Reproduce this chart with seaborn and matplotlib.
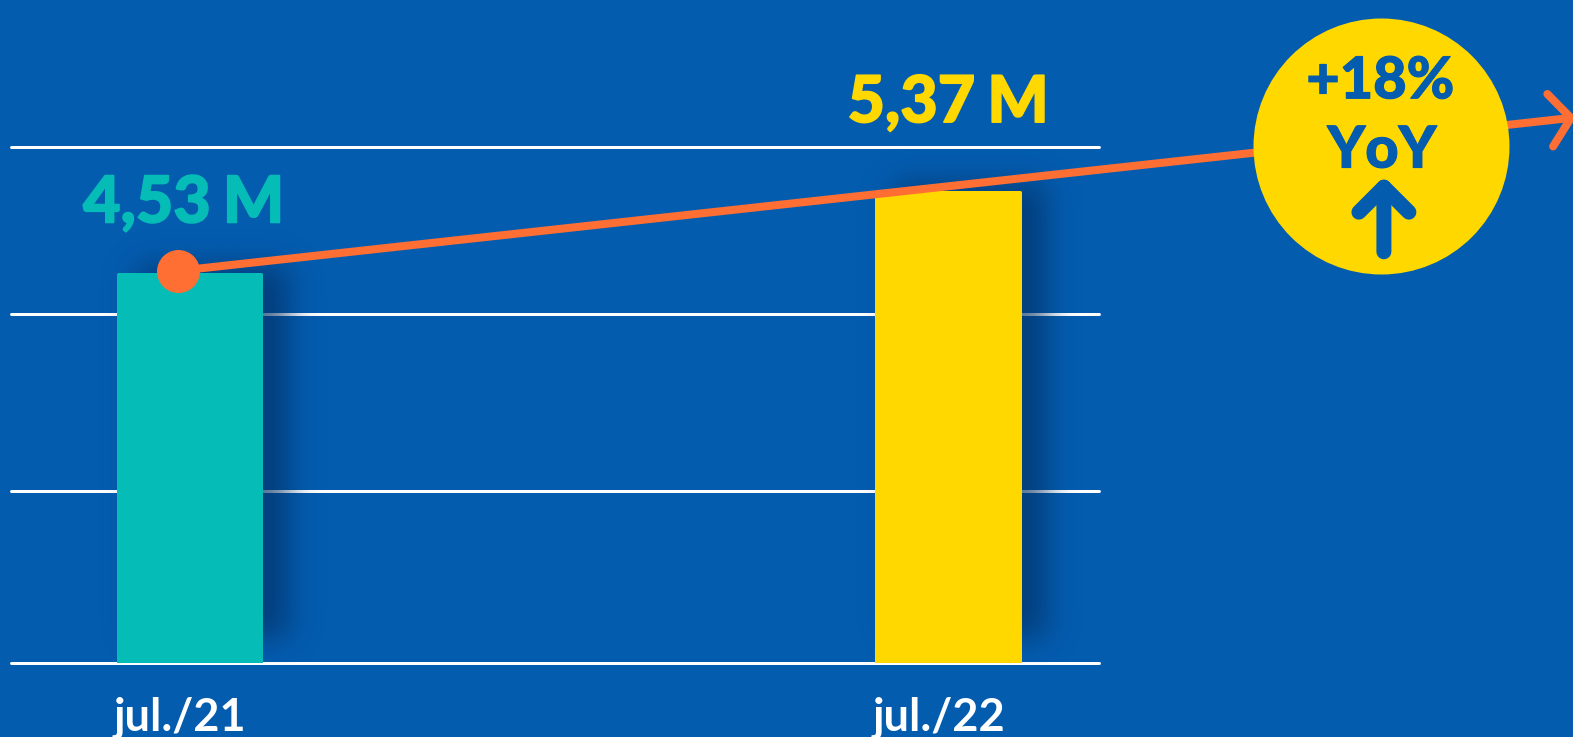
import math
import numpy as np
import pandas as pd
import matplotlib
matplotlib.use("Agg")
import matplotlib.pyplot as plt
import matplotlib.patheffects as pe
import seaborn as sns

# ---- data
periods = ["jul./21", "jul./22"]
values = [4.53, 5.37]
value_labels = ["4,53\u2009\u200aM", "5,37\u2009\u200aM"]
axis_floor = 0.564
grid_levels = [2.32, 4.13, 5.83]
yoy_lines = ["+18%", "YoY"]

# ---- style
BG = "#045CAF"
TEAL = "#05BDB6"
YELLOW = "#FFD800"
ORANGE = "#FF6E33"
W, H = 1573, 737
PT = 0.72  # points per pixel at dpi 100
K = 1573 / 1568

sns.set_theme(style="white")
plt.rcParams["font.family"] = ["Lato", "DejaVu Sans"]

fig = plt.figure(figsize=(W / 100, H / 100), dpi=100, facecolor=BG)
AX_L, AX_R, AX_B = 10.5 * K, 1096 * K, 661 * K
ax = fig.add_axes([AX_L / W, (H - AX_B) / H, (AX_R - AX_L) / W, AX_B / H])
ax.set_facecolor(BG)

df = pd.DataFrame({"period": periods, "value": values})
sns.barplot(data=df, x="period", y="value", hue="period",
            palette=[TEAL, YELLOW], legend=False, width=0.1895, ax=ax,
            saturation=1, zorder=3, edgecolor=None)
for patch, c in zip(ax.patches, [TEAL, YELLOW]):
    patch.set_edgecolor(c)
    patch.set_linewidth(3 * PT)
    patch.set_joinstyle("round")

PX_X, PX_Y = 758.4, 98.0
X0 = 189.0 * K
xlim = ((AX_L - X0) / PX_X, (AX_R - X0) / PX_X)
ylim = (axis_floor, axis_floor + AX_B / PX_Y)


def dx(px):
    return (px * K - X0) / PX_X


def dy(py):
    return axis_floor + (AX_B - py * K) / PX_Y


# soft drop shadows (separable gaussian-blurred rectangle)
xs = np.arange(AX_L, AX_R + 1) + 0.5
ys = np.arange(0, AX_B) + 0.5
erf = np.vectorize(math.erf)


def box(c, a, b, s):
    return 0.5 * (erf((c - a) / (s * 2 ** 0.5)) - erf((c - b) / (s * 2 ** 0.5)))


alpha = np.zeros((len(ys), len(xs)))
for i, v in enumerate(values):
    left = X0 + i * PX_X - 73
    top = AX_B - (v - axis_floor) * PX_Y
    alpha += np.outer(box(ys, top - 8, AX_B - 24, 15), box(xs, left + 20, left + 146 + 26, 15))
rgba = np.zeros(alpha.shape + (4,))
rgba[..., :3] = np.array([2, 48, 100]) / 255
rgba[..., 3] = np.clip(alpha, 0, 1) * 0.68
ax.imshow(rgba, extent=(xlim[0], xlim[1], ylim[0], ylim[1]), origin="upper", aspect="auto", zorder=2,
          interpolation="bilinear")

ax.set_xlim(*xlim)
ax.set_ylim(*ylim)
ax.set_yticks([axis_floor] + grid_levels)
ax.set_yticklabels([])
ax.grid(axis="y", color="white", lw=3 * PT, zorder=1)
ax.set_axisbelow(True)
for gl in ax.get_ygridlines():
    gl.set_clip_on(False)
for s in ax.spines.values():
    s.set_visible(False)
ax.set_xlabel("")
ax.set_ylabel("")
ax.tick_params(axis="both", length=0)
ax.tick_params(axis="x", pad=33 * PT, colors="white")
ax.set_xticks(range(len(periods)))
offset = matplotlib.transforms.ScaledTranslation(-9.5 / 100, 0, fig.dpi_scale_trans)
for lab in ax.get_xticklabels():
    lab.set_fontsize(32.5)
    lab.set_fontweight("bold")
    lab.set_color("white")
    lab.set_transform(lab.get_transform() + offset)


def thick(color, w):
    return [pe.withStroke(linewidth=w, foreground=color)]


# value labels
for i, (v, t, c, ox, oy) in enumerate(zip(values, value_labels, [TEAL, YELLOW], [-6, 0], [52, 70])):
    ax.annotate(t, (i, v), xytext=(ox * PT, oy * PT), textcoords="offset points",
                ha="center", va="baseline", fontsize=46.5, fontweight="black", color=c,
                annotation_clip=False, zorder=6, path_effects=thick(c, 1.2))

# growth line with open arrow head
ax.annotate("", xy=(dx(1571), dy(117)), xytext=(dx(177), dy(270)), annotation_clip=False,
            arrowprops=dict(arrowstyle="->,head_length=15,head_width=19", mutation_scale=1,
                            color=ORANGE, lw=8 * PT, shrinkA=0, shrinkB=0),
            zorder=5)
ax.scatter([dx(177)], [dy(270)], s=(43 * PT) ** 2, color=ORANGE, zorder=6, clip_on=False, linewidths=0)

# badge
ax.scatter([dx(1377)], [dy(146)], s=(256 * PT) ** 2, color=YELLOW, zorder=7, clip_on=False, linewidths=0)
ax.text(dx(1376), dy(98), yoy_lines[0], ha="center", va="baseline", fontsize=41.5, fontweight="black",
        color=BG, zorder=8, path_effects=thick(BG, 0.8))
ax.text(dx(1377.5), dy(167), yoy_lines[1], ha="center", va="baseline", fontsize=41.5, fontweight="black",
        color=BG, zorder=8, path_effects=thick(BG, 0.8))
ax.annotate("", xy=(dx(1379.5), dy(176)), xytext=(dx(1379.5), dy(251)), annotation_clip=False,
            arrowprops=dict(arrowstyle="->,head_length=18,head_width=18", mutation_scale=1,
                            color=BG, lw=15 * PT, shrinkA=0, shrinkB=0),
            zorder=8)

fig.savefig("out.png", dpi=100, facecolor=BG)
